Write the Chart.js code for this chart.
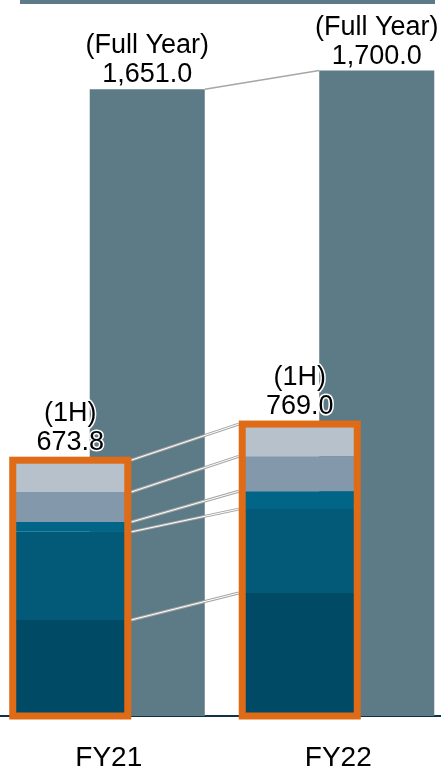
<!DOCTYPE html>
<html>
<head>
<meta charset="utf-8">
<script src="https://cdn.jsdelivr.net/npm/chart.js@4.4.1/dist/chart.umd.min.js"></script>
<style>
    html, body { margin: 0; padding: 0; background: #fff; overflow: hidden; }
    body { width: 441px; height: 768px; position: relative; }
    .topBand { position: absolute; left: 20px; top: 0; width: 415px; height: 4px; background: #5d7b86; }
    #chart { position: absolute; left: -6px; top: 0; }
</style>
</head>
<body>
<div class="topBand"></div>
<canvas id="chart" width="459" height="768"></canvas>
<script>
const categories = ['FY21', 'FY22']

// full year totals
const fullYear = [1651.0, 1700.0]

// first half, split into segments (bottom to top)
const h1Seg1 = [253.0, 324.0]
const h1Seg2 = [232.0, 221.0]
const h1Seg3 = [26.0, 47.0]
const h1Seg4 = [79.0, 92.0]
const h1Seg5 = [83.8, 85.0]
const h1Total = [673.8, 769.0]

const segmentColors = ['#004a66', '#025a78', '#006586', '#8398aa', '#b7c1cb']
const segments = [h1Seg1, h1Seg2, h1Seg3, h1Seg4, h1Seg5]

const FONT = "'Liberation Sans', Arial, sans-serif"
const BOX = 7

const fmt = v => v.toLocaleString('en-US', {minimumFractionDigits: 1, maximumFractionDigits: 1})

const datasets = segments.map((data, i) => ({
    label: '1H-' + (i + 1),
    data: data,
    stack: 'h1',
    order: 0,
    backgroundColor: segmentColors[i]
}))
datasets.push({
    label: 'Full Year',
    data: fullYear,
    stack: 'fy',
    order: 1,
    backgroundColor: '#5d7b86'
})

const haloText = (ctx, text, x, y) => {
    ctx.strokeText(text, x, y)
    ctx.fillText(text, x, y)
}

const overlayPlugin = {
    id: 'overlay',
    afterDatasetsDraw(chart) {
        const ctx = chart.ctx
        const full = chart.getDatasetMeta(segments.length).data
        const segMetas = segments.map((s, i) => chart.getDatasetMeta(i).data)
        const top = segMetas[segMetas.length - 1]
        const bottom = segMetas[0]

        ctx.save()
        ctx.lineCap = 'butt'

        // full year connector
        ctx.strokeStyle = '#a6a6a6'
        ctx.lineWidth = 1.5
        ctx.beginPath()
        ctx.moveTo(full[0].x + full[0].width / 2, full[0].y)
        ctx.lineTo(full[1].x - full[1].width / 2, full[1].y)
        ctx.stroke()

        // 1H segment connectors
        segMetas.forEach(bars => {
            const l = bars[0], r = bars[1]
            const x1 = l.x + l.width / 2 + BOX / 2
            const x2 = r.x - r.width / 2 - BOX / 2
            ctx.strokeStyle = '#a6a6a6'
            ctx.lineWidth = 3
            ctx.beginPath(); ctx.moveTo(x1, l.y); ctx.lineTo(x2, r.y); ctx.stroke()
            ctx.strokeStyle = '#ffffff'
            ctx.lineWidth = 1
            ctx.beginPath(); ctx.moveTo(x1, l.y); ctx.lineTo(x2, r.y); ctx.stroke()
        })

        // orange frames round the 1H stacks
        ctx.strokeStyle = '#df6b17'
        ctx.lineWidth = BOX
        top.forEach((el, i) => {
            const base = bottom[i].base
            ctx.strokeRect(el.x - el.width / 2, el.y, el.width, base - el.y)
        })

        // value labels
        ctx.font = '27px ' + FONT
        ctx.textAlign = 'center'
        ctx.textBaseline = 'alphabetic'
        ctx.fillStyle = '#000'
        ctx.strokeStyle = '#fff'
        ctx.lineWidth = 3
        ctx.lineJoin = 'round'
        full.forEach((el, i) => {
            haloText(ctx, '(Full Year)', el.x, el.y - 36)
            haloText(ctx, fmt(fullYear[i]), el.x, el.y - 7)
        })
        top.forEach((el, i) => {
            haloText(ctx, '(1H)', el.x, el.y - 39)
            haloText(ctx, fmt(h1Total[i]), el.x, el.y - 10)
        })
        ctx.restore()
    }
}

new Chart(document.getElementById('chart'), {
    type: 'bar',
    data: {labels: categories, datasets: datasets},
    options: {
        responsive: false,
        animation: false,
        devicePixelRatio: 1,
        layout: {padding: 0},
        categoryPercentage: 0.671,
        barPercentage: 1.494,
        plugins: {legend: {display: false}, tooltip: {enabled: false}},
        scales: {
            x: {
                stacked: true,
                grid: {display: false},
                border: {display: true, color: '#0f3346', width: 2},
                ticks: {color: '#000', padding: 17, font: {family: FONT, size: 28}},
                afterFit: axis => { axis.height = 52 }
            },
            y: {
                stacked: true,
                display: false,
                min: 0,
                max: 1886
            }
        }
    },
    plugins: [overlayPlugin]
})
</script>
</body>
</html>
